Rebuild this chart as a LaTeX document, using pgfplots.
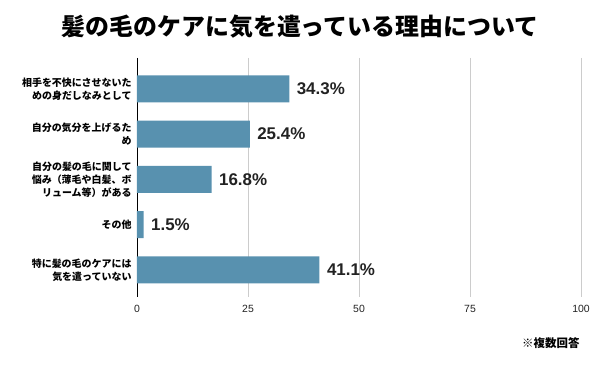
\documentclass[border=0pt]{standalone}
\usepackage{fontspec}
\setmainfont{Liberation Sans}
\newfontfamily\jp{Noto Sans CJK JP}
\usepackage{pgfplots}
\pgfplotsset{compat=1.18}
\definecolor{barc}{RGB}{88,145,175}
\definecolor{gridc}{RGB}{204,204,204}
\definecolor{lab}{RGB}{34,34,34}
\begin{document}
\begin{tikzpicture}[x=1bp,y=1bp]
\path[use as bounding box] (-137,-74) rectangle (463,297);
\begin{axis}[
  at={(0,0)}, anchor=south west,
  scale only axis, width=444bp, height=239bp,
  xbar, bar width=27bp,
  xmin=0, xmax=100,
  ymin=-0.68, ymax=4.6, y dir=reverse,
  xtick={0,25,50,75,100},
  ytick={0,1,2,3,4},
  yticklabels={{相手を不快にさせないた\\ めの身だしなみとして},{自分の気分を上げるた\\ め},{自分の髪の毛に関して\\ 悩み（薄毛や白髪、ボ\\ リューム等）がある},{その他},{特に髪の毛のケアには\\ 気を遣っていない}},
  yticklabel style={font=\jp\bfseries\fontsize{10}{13}\selectfont, align=right, text=black, xshift=-2bp},
  xticklabel style={font=\fontsize{10.5}{12}\selectfont, text=lab, yshift=-5bp},
  /pgf/number format/assume math mode=true,
  major tick length=0pt,
  xmajorgrids, grid style={gridc, line width=0.8bp},
  axis line style={draw=none},
  extra x ticks={0}, extra x tick style={grid style={black, line width=0.8bp}, xticklabels={}},
  nodes near coords={\pgfmathprintnumber[fixed,precision=1,fixed zerofill]{\pgfplotspointmeta}\%},
  nodes near coords style={font=\bfseries\fontsize{17}{20}\selectfont, text=lab, anchor=west, xshift=4bp},
  clip=false,
]
\addplot[fill=barc, draw=none] coordinates {(34.3,0) (25.4,1) (16.8,2) (1.5,3) (41.1,4)};
\end{axis}
\node[font=\jp\bfseries\fontsize{24}{28}\selectfont] at (163,270) {髪の毛のケアに気を遣っている理由について};
\node[font=\jp\bfseries\fontsize{11.5}{14}\selectfont, anchor=east] at (446,-46) {※複数回答};
\end{tikzpicture}
\end{document}
